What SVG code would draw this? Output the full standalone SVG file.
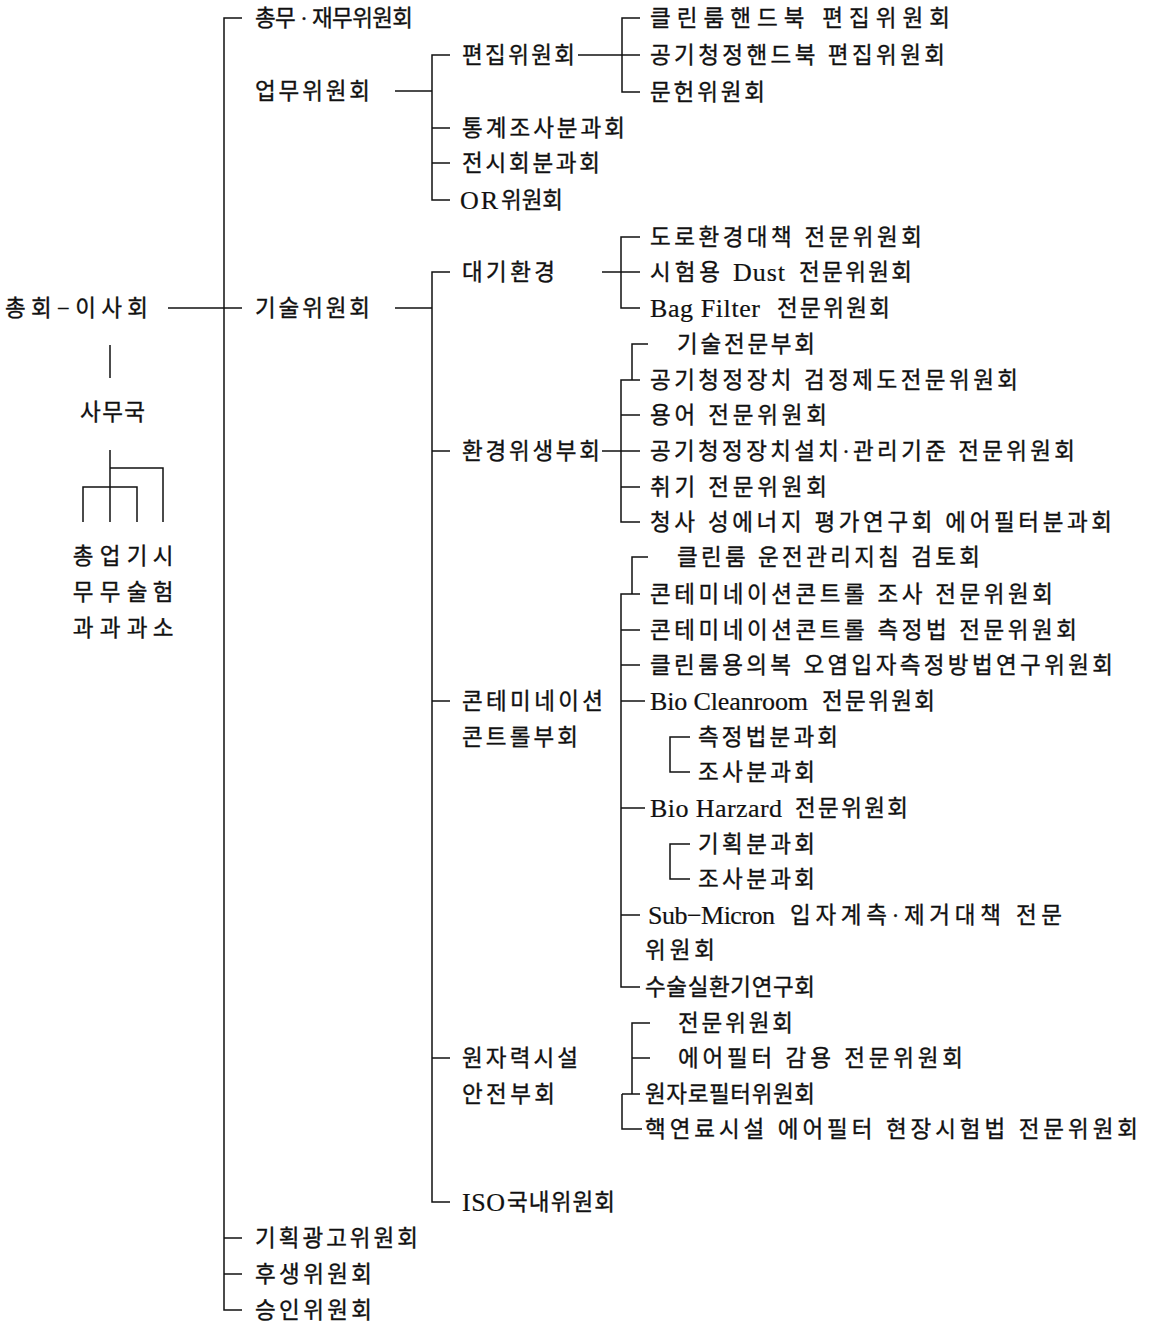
<svg xmlns="http://www.w3.org/2000/svg" width="1154" height="1325" viewBox="0 0 1154 1325">
<style>
text{font-family:"Liberation Serif","Noto Sans CJK KR",serif;font-size:22.5px;fill:#111;stroke:#111;stroke-width:0.35;dominant-baseline:central}
.l{font-size:26px;stroke-width:0.2}
.c line,.c path{stroke:#111;stroke-width:1.5;fill:none}
</style>
<rect width="1154" height="1325" fill="#fff"/>
<g id="connectors" class="c">
<path d="M242 18H224V1310H242"/>
<line x1="168" y1="308" x2="242" y2="308"/>
<line x1="224" y1="1238" x2="242" y2="1238"/>
<line x1="224" y1="1274" x2="242" y2="1274"/>
<line x1="110" y1="345" x2="110" y2="378"/>
<line x1="110" y1="450" x2="110" y2="522"/>
<path d="M110 468H163V522"/>
<path d="M83 522V487H137V522"/>
<line x1="395" y1="91" x2="432" y2="91"/>
<path d="M450 55H432V200H450"/>
<line x1="432" y1="128" x2="450" y2="128"/>
<line x1="432" y1="163" x2="450" y2="163"/>
<line x1="578" y1="55" x2="640" y2="55"/>
<path d="M640 18H622V92H640"/>
<line x1="395" y1="308" x2="432" y2="308"/>
<path d="M450 272H432V1202H450"/>
<line x1="432" y1="451" x2="450" y2="451"/>
<line x1="432" y1="701" x2="450" y2="701"/>
<line x1="432" y1="1058" x2="450" y2="1058"/>
<line x1="602" y1="272" x2="640" y2="272"/>
<path d="M640 237H621V308H640"/>
<line x1="602" y1="451" x2="640" y2="451"/>
<path d="M640 380H621V522H640"/>
<path d="M648 344H632V380"/>
<line x1="621" y1="415" x2="640" y2="415"/>
<line x1="621" y1="487" x2="640" y2="487"/>
<path d="M640 594H621V987H640"/>
<path d="M648 557H632V594"/>
<line x1="621" y1="630" x2="640" y2="630"/>
<line x1="621" y1="665" x2="640" y2="665"/>
<line x1="621" y1="701" x2="645" y2="701"/>
<line x1="621" y1="808" x2="645" y2="808"/>
<line x1="621" y1="915" x2="640" y2="915"/>
<path d="M690 737H670V772H690"/>
<path d="M690 844H670V879H690"/>
<path d="M650 1023H632V1094"/>
<line x1="632" y1="1058" x2="650" y2="1058"/>
<line x1="622" y1="1094" x2="640" y2="1094"/>
<path d="M622 1094V1129H642"/>
</g>
<g id="n-chonghoe"><text x="5" y="308" textLength="143" lengthAdjust="spacing">총회−이사회</text></g>
<g id="n-samuguk"><text x="80" y="412" textLength="65" lengthAdjust="spacing">사무국</text></g>
<g id="n-gwa">
<text x="83 110 137 163" y="556" text-anchor="middle">총업기시</text>
<text x="83 110 137 163" y="592" text-anchor="middle">무무술험</text>
<text x="83 110 137 163" y="628" text-anchor="middle">과과과소</text>
</g>
<g id="n-chongmu"><text x="255" y="18" textLength="158" lengthAdjust="spacing">총무 · 재무위원회</text></g>
<g id="n-eopmu"><text x="255" y="91" textLength="115" lengthAdjust="spacing">업무위원회</text></g>
<g id="n-pyeonjip"><text x="462" y="55" textLength="113" lengthAdjust="spacing">편집위원회</text></g>
<g id="n-cleanroom-hb"><text x="650" y="18" textLength="300" lengthAdjust="spacing">클린룸핸드북 편집위원회</text></g>
<g id="n-air-hb"><text x="650" y="55" textLength="295" lengthAdjust="spacing">공기청정핸드북 편집위원회</text></g>
<g id="n-munheon"><text x="650" y="92" textLength="115" lengthAdjust="spacing">문헌위원회</text></g>
<g id="n-tonggye"><text x="462" y="128" textLength="163" lengthAdjust="spacing">통계조사분과회</text></g>
<g id="n-jeonsi"><text x="462" y="163" textLength="138" lengthAdjust="spacing">전시회분과회</text></g>
<g id="n-or"><text class="l" x="460" y="200" textLength="38" lengthAdjust="spacing">OR</text><text x="501" y="200" textLength="62" lengthAdjust="spacing">위원회</text></g>
<g id="n-gisul"><text x="255" y="308" textLength="115" lengthAdjust="spacing">기술위원회</text></g>
<g id="n-daegi"><text x="462" y="272" textLength="93" lengthAdjust="spacing">대기환경</text></g>
<g id="n-doro"><text x="650" y="237" textLength="272" lengthAdjust="spacing">도로환경대책 전문위원회</text></g>
<g id="n-dust"><text x="650" y="272" textLength="70" lengthAdjust="spacing">시험용</text><text class="l" x="733" y="272" textLength="52" lengthAdjust="spacing">Dust</text><text x="799" y="272" textLength="113" lengthAdjust="spacing">전문위원회</text></g>
<g id="n-bag"><text class="l" x="650" y="308" textLength="110" lengthAdjust="spacing">Bag Filter</text><text x="777" y="308" textLength="113" lengthAdjust="spacing">전문위원회</text></g>
<g id="n-hwangyeong"><text x="462" y="451" textLength="138" lengthAdjust="spacing">환경위생부회</text></g>
<g id="n-gisuljeonmun"><text x="677" y="344" textLength="138" lengthAdjust="spacing">기술전문부회</text></g>
<g id="n-geomjeong"><text x="650" y="380" textLength="368" lengthAdjust="spacing">공기청정장치 검정제도전문위원회</text></g>
<g id="n-yongeo"><text x="650" y="415" textLength="177" lengthAdjust="spacing">용어 전문위원회</text></g>
<g id="n-seolchi"><text x="650" y="451" textLength="425" lengthAdjust="spacing">공기청정장치설치·관리기준 전문위원회</text></g>
<g id="n-chwigi"><text x="650" y="487" textLength="177" lengthAdjust="spacing">취기 전문위원회</text></g>
<g id="n-cheongsa"><text x="650" y="522" textLength="462" lengthAdjust="spacing">청사 성에너지 평가연구회 에어필터분과회</text></g>
<g id="n-contam"><text x="462" y="701" textLength="141" lengthAdjust="spacing">콘테미네이션</text><text x="462" y="737" textLength="116" lengthAdjust="spacing">콘트롤부회</text></g>
<g id="n-unjeon"><text x="677" y="557" textLength="303" lengthAdjust="spacing">클린룸 운전관리지침 검토회</text></g>
<g id="n-josa-cc"><text x="650" y="594" textLength="403" lengthAdjust="spacing">콘테미네이션콘트롤 조사 전문위원회</text></g>
<g id="n-cheukjeong-cc"><text x="650" y="630" textLength="427" lengthAdjust="spacing">콘테미네이션콘트롤 측정법 전문위원회</text></g>
<g id="n-uibok"><text x="650" y="665" textLength="463" lengthAdjust="spacing">클린룸용의복 오염입자측정방법연구위원회</text></g>
<g id="n-biocr"><text class="l" x="650" y="701" textLength="158" lengthAdjust="spacing">Bio Cleanroom</text><text x="822" y="701" textLength="113" lengthAdjust="spacing">전문위원회</text></g>
<g id="n-cheukjeongbun"><text x="698" y="737" textLength="140" lengthAdjust="spacing">측정법분과회</text></g>
<g id="n-josabun1"><text x="698" y="772" textLength="117" lengthAdjust="spacing">조사분과회</text></g>
<g id="n-biohz"><text class="l" x="650" y="808" textLength="132" lengthAdjust="spacing">Bio Harzard</text><text x="795" y="808" textLength="113" lengthAdjust="spacing">전문위원회</text></g>
<g id="n-gihoekbun"><text x="698" y="844" textLength="117" lengthAdjust="spacing">기획분과회</text></g>
<g id="n-josabun2"><text x="698" y="879" textLength="117" lengthAdjust="spacing">조사분과회</text></g>
<g id="n-submicron"><text class="l" x="648" y="915" textLength="127" lengthAdjust="spacing">Sub−Micron</text><text x="790" y="915" textLength="272" lengthAdjust="spacing">입자계측·제거대책 전문</text><text x="645" y="950" textLength="70" lengthAdjust="spacing">위원회</text></g>
<g id="n-susul"><text x="645" y="987" textLength="170" lengthAdjust="spacing">수술실환기연구회</text></g>
<g id="n-wonjaryeok"><text x="462" y="1058" textLength="116" lengthAdjust="spacing">원자력시설</text><text x="462" y="1094" textLength="93" lengthAdjust="spacing">안전부회</text></g>
<g id="n-jeonmun"><text x="678" y="1023" textLength="115" lengthAdjust="spacing">전문위원회</text></g>
<g id="n-gamyong"><text x="678" y="1058" textLength="285" lengthAdjust="spacing">에어필터 감용 전문위원회</text></g>
<g id="n-wonjaro"><text x="645" y="1094" textLength="170" lengthAdjust="spacing">원자로필터위원회</text></g>
<g id="n-haekyeonryo"><text x="645" y="1129" textLength="493" lengthAdjust="spacing">핵연료시설 에어필터 현장시험법 전문위원회</text></g>
<g id="n-iso"><text class="l" x="462" y="1202" textLength="43" lengthAdjust="spacing">ISO</text><text x="507" y="1202" textLength="108" lengthAdjust="spacing">국내위원회</text></g>
<g id="n-gihoek"><text x="255" y="1238" textLength="163" lengthAdjust="spacing">기획광고위원회</text></g>
<g id="n-husaeng"><text x="255" y="1274" textLength="117" lengthAdjust="spacing">후생위원회</text></g>
<g id="n-seungin"><text x="255" y="1310" textLength="117" lengthAdjust="spacing">승인위원회</text></g>
</svg>
